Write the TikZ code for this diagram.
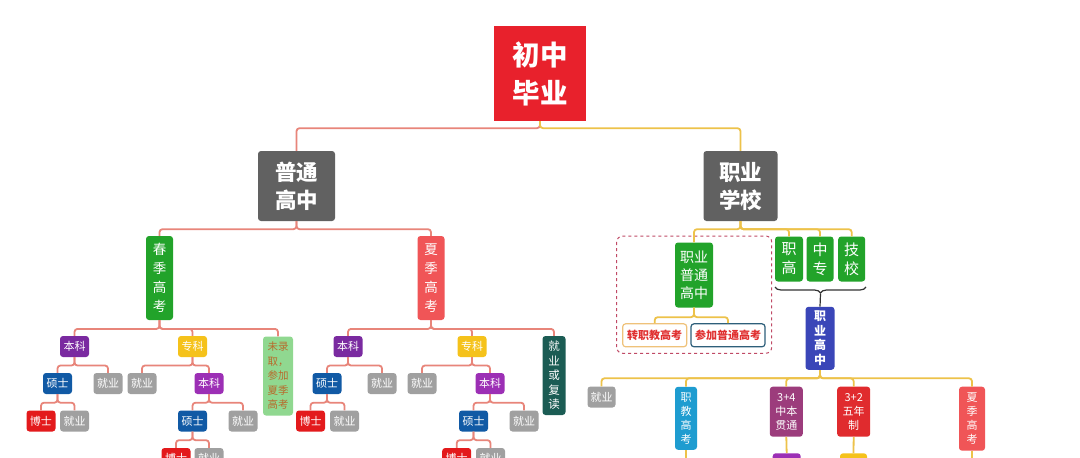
\documentclass[tikz,border=0pt]{standalone}
\usepackage{fontspec}
\setmainfont{Noto Sans CJK SC}
\usetikzlibrary{decorations.pathreplacing}
\definecolor{cRoot}{HTML}{E8212C}
\definecolor{cGray}{HTML}{616161}
\definecolor{cGreen}{HTML}{22A32A}
\definecolor{cSalmon}{HTML}{F05557}
\definecolor{cPurple}{HTML}{7A2AA0}
\definecolor{cPurple2}{HTML}{9C2FB5}
\definecolor{cYellow}{HTML}{F5C21B}
\definecolor{cBlue}{HTML}{115AA5}
\definecolor{cRed}{HTML}{E31A1C}
\definecolor{cJob}{HTML}{A0A0A0}
\definecolor{cLGreen}{HTML}{90D890}
\definecolor{cBrown}{HTML}{B86A2C}
\definecolor{cTeal}{HTML}{1B5C54}
\definecolor{cIndigo}{HTML}{3A46B8}
\definecolor{cCyan}{HTML}{1E9CD0}
\definecolor{cPlum}{HTML}{9C3C7C}
\definecolor{cRed2}{HTML}{E02B2E}
\definecolor{cLineR}{HTML}{E8857A}
\definecolor{cLineY}{HTML}{EDC24A}
\definecolor{cDash}{HTML}{C04A66}
\definecolor{cTan}{HTML}{EFC27A}
\definecolor{cNavy}{HTML}{2E5F7A}
\definecolor{cRedText}{HTML}{E03030}
\begin{document}
\begin{tikzpicture}[x=1pt,y=-1pt,
  bx/.style={rounded corners=3pt, text=white, align=center, inner sep=0pt, font=\fontsize{11}{14}\selectfont},
  sm/.style={bx, minimum width=29pt, minimum height=21pt},
  tallbox/.style={bx, minimum width=27pt, minimum height=84pt, font=\fontsize{13.5}{19}\selectfont},
  lr/.style={draw=cLineR, line width=1.8pt, rounded corners=3pt},
  ly/.style={draw=cLineY, line width=1.8pt, rounded corners=3pt},
  choice/.style={rounded corners=3pt, fill=white, line width=1.2pt, text=cRedText, inner sep=0pt, minimum height=23pt, font=\bfseries\fontsize{11}{13}\selectfont}
]
\useasboundingbox (0,0) rectangle (1080,458);
\fill[white] (0,0) rectangle (1080,458);
\clip (0,0) rectangle (1080,458);

% top levels
\node[bx, rounded corners=0pt, fill=cRoot, minimum width=92pt, minimum height=95pt, font=\bfseries\fontsize{27.5}{38}\selectfont] (root) at (540,73.5) {初中\\毕业};
\node[bx, fill=cGray, minimum width=77pt, minimum height=70pt, font=\bfseries\fontsize{21.5}{28}\selectfont] (pt) at (296.5,186) {普通\\高中};
\node[bx, fill=cGray, minimum width=74pt, minimum height=70pt, font=\bfseries\fontsize{21.5}{28}\selectfont] (zx) at (740.5,186) {职业\\学校};

% left subtree
\node[tallbox, fill=cGreen] (cj) at (159.5,278) {春\\季\\高\\考};
\node[tallbox, fill=cSalmon] (xj) at (431,278) {夏\\季\\高\\考};

\node[sm, fill=cPurple] (cjbk) at (74.5,346.5) {本科};
\node[sm, fill=cYellow] (cjzk) at (192.5,346.5) {专科};
\node[bx, fill=cLGreen, text=cBrown, minimum width=30pt, minimum height=79pt, font=\fontsize{10.5}{14.5}\selectfont] (cjwl) at (278,376) {未录\\取，\\参加\\夏季\\高考};

\node[sm, fill=cBlue] (a1) at (57.5,383.5) {硕士};
\node[sm, fill=cJob] (a2) at (108,383.5) {就业};
\node[sm, fill=cRed] (a3) at (41,421) {博士};
\node[sm, fill=cJob] (a4) at (74.5,421) {就业};

\node[sm, fill=cJob] (b1) at (142,383.5) {就业};
\node[sm, fill=cPurple2] (b2) at (209,383.5) {本科};
\node[sm, fill=cBlue] (b3) at (192.5,421) {硕士};
\node[sm, fill=cJob] (b4) at (243,421) {就业};
\node[sm, fill=cRed] (b5) at (176,458.5) {博士};
\node[sm, fill=cJob] (b6) at (209,458.5) {就业};

\node[sm, fill=cPurple] (xjbk) at (348,346.5) {本科};
\node[sm, fill=cYellow] (xjzk) at (472,346.5) {专科};
\node[bx, fill=cTeal, minimum width=23pt, minimum height=79pt, font=\fontsize{11.5}{14.5}\selectfont] (xjjy) at (554,375.5) {就\\业\\或\\复\\读};

\node[sm, fill=cBlue] (c1) at (327,383.5) {硕士};
\node[sm, fill=cJob] (c2) at (382,383.5) {就业};
\node[sm, fill=cRed] (c3) at (310.5,421) {博士};
\node[sm, fill=cJob] (c4) at (344.5,421) {就业};

\node[sm, fill=cJob] (d1) at (422,383.5) {就业};
\node[sm, fill=cPurple2] (d2) at (490,383.5) {本科};
\node[sm, fill=cBlue] (d3) at (473.5,421) {硕士};
\node[sm, fill=cJob] (d4) at (524,421) {就业};
\node[sm, fill=cRed] (d5) at (456.7,458.5) {博士};
\node[sm, fill=cJob] (d6) at (490.5,458.5) {就业};

% right subtree
\node[bx, fill=cGreen, minimum width=38pt, minimum height=65pt, font=\fontsize{14}{18}\selectfont] (zp) at (694,275) {职业\\普通\\高中};
\node[bx, fill=cGreen, minimum width=28pt, minimum height=45pt, font=\fontsize{15}{19}\selectfont] (zg) at (789,259) {职\\高};
\node[bx, fill=cGreen, minimum width=27pt, minimum height=45pt, font=\fontsize{15}{19}\selectfont] (zz) at (820,259) {中\\专};
\node[bx, fill=cGreen, minimum width=27pt, minimum height=45pt, font=\fontsize{15}{19}\selectfont] (zj) at (851.7,259) {技\\校};

\draw[cDash, dashed, line width=1pt, rounded corners=6pt] (616.7,236) rectangle (771.7,353.3);
\node[choice, draw=cTan, minimum width=64pt] (t1) at (654.7,335.3) {转职教高考};
\node[choice, draw=cNavy, minimum width=74pt] (t2) at (728,335.3) {参加普通高考};

\coordinate (brL) at (775,287);
\coordinate (brR) at (866,287);
\draw[black!80, line width=1.2pt, decorate, decoration={brace, mirror, amplitude=6pt}] (brL) -- (brR);
\coordinate (brT) at (820.5,294);

\node[bx, fill=cIndigo, minimum width=29pt, minimum height=63pt, font=\bfseries\fontsize{12}{14.5}\selectfont] (zgz) at (820,338.3) {职\\业\\高\\中};

\node[sm, fill=cJob, minimum width=28pt] (e1) at (601.5,397) {就业};
\node[bx, fill=cCyan, minimum width=22pt, minimum height=63pt, font=\fontsize{11}{14}\selectfont] (e2) at (686,418.3) {职\\教\\高\\考};
\node[bx, fill=cPlum, minimum width=33pt, minimum height=50pt, font=\fontsize{11}{14}\selectfont] (e3) at (786.3,411.7) {3+4\\中本\\贯通};
\node[bx, fill=cRed2, minimum width=33pt, minimum height=50pt, font=\fontsize{11}{14}\selectfont] (e4) at (853.7,411.7) {3+2\\五年\\制};
\node[bx, fill=cSalmon, minimum width=26pt, minimum height=64pt, font=\fontsize{11}{14}\selectfont] (e5) at (972,418.7) {夏\\季\\高\\考};
\node[bx, fill=cPurple2, minimum width=28pt, minimum height=24pt] (f3) at (786.7,465.3) {};
\node[bx, fill=cYellow, minimum width=27pt, minimum height=24pt] (f4) at (853.5,465.3) {};
\coordinate (f2) at (686,470);
\coordinate (f5) at (972,470);

% connectors: left
\draw[lr] (root.south) -- ++(0,7) -| (pt.north);
\draw[ly] (root.south) -- ++(0,7) -| (zx.north);
\foreach \c in {cj,xj} \draw[lr] (pt.south) -- ++(0,8) -| (\c.north);
\foreach \c in {cjbk,cjzk,cjwl} \draw[lr] (cj.south) -- ++(0,8.7) -| (\c.north);
\foreach \c in {a1,a2} \draw[lr] (cjbk.south) -- ++(0,8.3) -| (\c.north);
\foreach \c in {a3,a4} \draw[lr] (a1.south) -- ++(0,8.5) -| (\c.north);
\foreach \c in {b1,b2} \draw[lr] (cjzk.south) -- ++(0,8.3) -| (\c.north);
\foreach \c in {b3,b4} \draw[lr] (b2.south) -- ++(0,8.5) -| (\c.north);
\foreach \c in {b5,b6} \draw[lr] (b3.south) -- ++(0,8.5) -| (\c.north);
\foreach \c in {xjbk,xjzk,xjjy} \draw[lr] (xj.south) -- ++(0,8.7) -| (\c.north);
\foreach \c in {c1,c2} \draw[lr] (xjbk.south) -- ++(0,8.3) -| (\c.north);
\foreach \c in {c3,c4} \draw[lr] (c1.south) -- ++(0,8.5) -| (\c.north);
\foreach \c in {d1,d2} \draw[lr] (xjzk.south) -- ++(0,8.3) -| (\c.north);
\foreach \c in {d3,d4} \draw[lr] (d2.south) -- ++(0,8.5) -| (\c.north);
\foreach \c in {d5,d6} \draw[lr] (d3.south) -- ++(0,8.5) -| (\c.north);

% connectors: right
\foreach \c in {zp,zg,zz,zj} \draw[ly] (zx.south) -- ++(0,8) -| (\c.north);
\foreach \c in {t1,t2} \draw[ly] (zp.south) -- ++(0,9.5) -| (\c.north);
\draw[black!80, line width=1.2pt] (brT) -- (zgz.north);
\foreach \c in {e1,e2,e3,e4,e5} \draw[ly] (zgz.south) -- ++(0,8.3) -| (\c.north);
\draw[ly] (e2.south) -- (f2);
\draw[ly] (e3.south) -- (f3.north);
\draw[ly] (e4.south) -- (f4.north);
\draw[ly] (e5.south) -- (f5);
\end{tikzpicture}
\end{document}
